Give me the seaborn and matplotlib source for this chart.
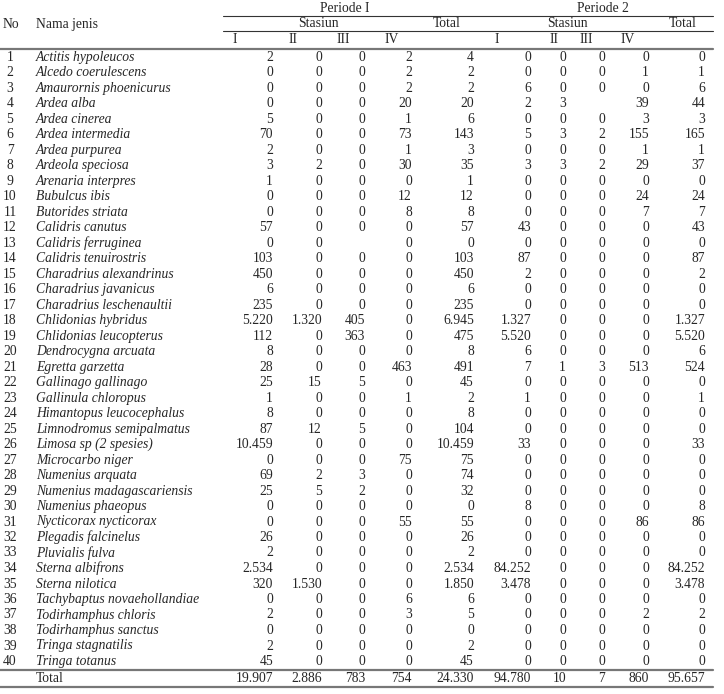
import matplotlib
matplotlib.use("Agg")
import matplotlib.pyplot as plt
import seaborn as sns

# species list
names = ["Actitis hypoleucos", "Alcedo coerulescens", "Amaurornis phoenicurus", "Ardea alba",
         "Ardea cinerea", "Ardea intermedia", "Ardea purpurea", "Ardeola speciosa",
         "Arenaria interpres", "Bubulcus ibis", "Butorides striata", "Calidris canutus",
         "Calidris ferruginea", "Calidris tenuirostris", "Charadrius alexandrinus",
         "Charadrius javanicus", "Charadrius leschenaultii", "Chlidonias hybridus",
         "Chlidonias leucopterus", "Dendrocygna arcuata", "Egretta garzetta",
         "Gallinago gallinago", "Gallinula chloropus", "Himantopus leucocephalus",
         "Limnodromus semipalmatus", "Limosa sp (2 spesies)", "Microcarbo niger",
         "Numenius arquata", "Numenius madagascariensis", "Numenius phaeopus",
         "Nycticorax nycticorax", "Plegadis falcinelus", "Pluvialis fulva", "Sterna albifrons",
         "Sterna nilotica", "Tachybaptus novaehollandiae", "Todirhamphus chloris",
         "Todirhamphus sanctus", "Tringa stagnatilis", "Tringa totanus"]

# Periode I, stasiun I-IV and total (None = empty cell)
p1_s1 = [2, 0, 0, 0, 5, 70, 2, 3, 1, 0, 0, 57, 0, 103, 450, 6, 235, 5220, 112, 8,
         28, 25, 1, 8, 87, 10459, 0, 69, 25, 0, 0, 26, 2, 2534, 320, 0, 2, 0, 2, 45]
p1_s2 = [0, 0, 0, 0, 0, 0, 0, 2, 0, 0, 0, 0, 0, 0, 0, 0, 0, 1320, 0, 0,
         0, 15, 0, 0, 12, 0, 0, 2, 5, 0, 0, 0, 0, 0, 1530, 0, 0, 0, 0, 0]
p1_s3 = [0, 0, 0, 0, 0, 0, 0, 0, 0, 0, 0, 0, None, 0, 0, 0, 0, 405, 363, 0,
         0, 5, 0, 0, 5, 0, 0, 3, 2, 0, 0, 0, 0, 0, 0, 0, 0, 0, 0, 0]
p1_s4 = [2, 2, 2, 20, 1, 73, 1, 30, 0, 12, 8, 0, 0, 0, 0, 0, 0, 0, 0, 0,
         463, 0, 1, 0, 0, 0, 75, 0, 0, 0, 55, 0, 0, 0, 0, 6, 3, 0, 0, 0]
p1_tot = [4, 2, 2, 20, 6, 143, 3, 35, 1, 12, 8, 57, 0, 103, 450, 6, 235, 6945, 475, 8,
          491, 45, 2, 8, 104, 10459, 75, 74, 32, 0, 55, 26, 2, 2534, 1850, 6, 5, 0, 2, 45]

# Periode 2
p2_s1 = [0, 0, 6, 2, 0, 5, 0, 3, 0, 0, 0, 43, 0, 87, 2, 0, 0, 1327, 5520, 6,
         7, 0, 1, 0, 0, 33, 0, 0, 0, 8, 0, 0, 0, 84252, 3478, 0, 0, 0, 0, 0]
p2_s2 = [0, 0, 0, 3, 0, 3, 0, 3, 0, 0, 0, 0, 0, 0, 0, 0, 0, 0, 0, 0,
         1, 0, 0, 0, 0, 0, 0, 0, 0, 0, 0, 0, 0, 0, 0, 0, 0, 0, 0, 0]
p2_s3 = [0, 0, 0, None, 0, 2, 0, 2, 0, 0, 0, 0, 0, 0, 0, 0, 0, 0, 0, 0,
         3, 0, 0, 0, 0, 0, 0, 0, 0, 0, 0, 0, 0, 0, 0, 0, 0, 0, 0, 0]
p2_s4 = [0, 1, 0, 39, 3, 155, 1, 29, 0, 24, 7, 0, 0, 0, 0, 0, 0, 0, 0, 0,
         513, 0, 0, 0, 0, 0, 0, 0, 0, 0, 86, 0, 0, 0, 0, 0, 2, 0, 0, 0]
p2_tot = [0, 1, 6, 44, 3, 165, 1, 37, 0, 24, 7, 43, 0, 87, 2, 0, 0, 1327, 5520, 6,
          524, 0, 1, 0, 0, 33, 0, 0, 0, 8, 86, 0, 0, 84252, 3478, 0, 2, 0, 0, 0]

totals = [19907, 2886, 783, 754, 24330, 94780, 10, 7, 860, 95657]

sub_labels = ["I", "II", "III", "IV"]


def fmt(v):
    if v is None:
        return ""
    return f"{v:,}".replace(",", ".")


sns.set_theme(style="white")
plt.rcParams["font.family"] = ["Liberation Serif", "DejaVu Serif"]
fs = 9.8

fig = plt.figure(figsize=(7.24, 6.94), dpi=100)
ax = fig.add_axes([0, 0, 1, 1])
ax.set_xlim(0, 724)
ax.set_ylim(694, 0)
ax.axis("off")

cols = [p1_s1, p1_s2, p1_s3, p1_s4, p1_tot, p2_s1, p2_s2, p2_s3, p2_s4, p2_tot]
col_right = [273, 322, 365, 412, 474, 531, 566, 605, 649, 705]

row0, dy = 57, 15.5
for i, name in enumerate(names):
    y = row0 + i * dy
    ax.text(10, y, str(i + 1), ha="center", va="center", fontsize=fs)
    ax.text(36, y, name, ha="left", va="center", fontsize=fs, style="italic")
    for c, xr in zip(cols, col_right):
        ax.text(xr, y, fmt(c[i]), ha="right", va="center", fontsize=fs)

ytot = 678
ax.text(36, ytot, "Total", ha="left", va="center", fontsize=fs)
for v, xr in zip(totals, col_right):
    ax.text(xr, ytot, fmt(v), ha="right", va="center", fontsize=fs)

# header
ax.text(3, 24, "No", ha="left", va="center", fontsize=fs)
ax.text(36, 24, "Nama jenis", ha="left", va="center", fontsize=fs)
ax.text(345, 8, "Periode I", ha="center", va="center", fontsize=fs)
ax.text(603, 8, "Periode 2", ha="center", va="center", fontsize=fs)
ax.text(318, 23, "Stasiun", ha="center", va="center", fontsize=fs)
ax.text(447, 23, "Total", ha="center", va="center", fontsize=fs)
ax.text(567, 23, "Stasiun", ha="center", va="center", fontsize=fs)
ax.text(683, 23, "Total", ha="center", va="center", fontsize=fs)
for lab, x in zip(sub_labels, [235, 293, 343, 392]):
    ax.text(x, 39, lab, ha="center", va="center", fontsize=fs)
for lab, x in zip(sub_labels, [497, 554, 586, 628]):
    ax.text(x, 39, lab, ha="center", va="center", fontsize=fs)

# rules
ax.plot([223, 713], [15.5, 15.5], color="#333333", lw=0.8)
ax.plot([223, 713], [30.5, 30.5], color="#333333", lw=0.8)
ax.plot([0, 713], [48.5, 48.5], color="#777777", lw=1.6)
ax.plot([0, 713], [670, 670], color="#777777", lw=1.6)
ax.plot([0, 713], [687, 687], color="#777777", lw=1.6)

fig.savefig("out.png", dpi=100)
